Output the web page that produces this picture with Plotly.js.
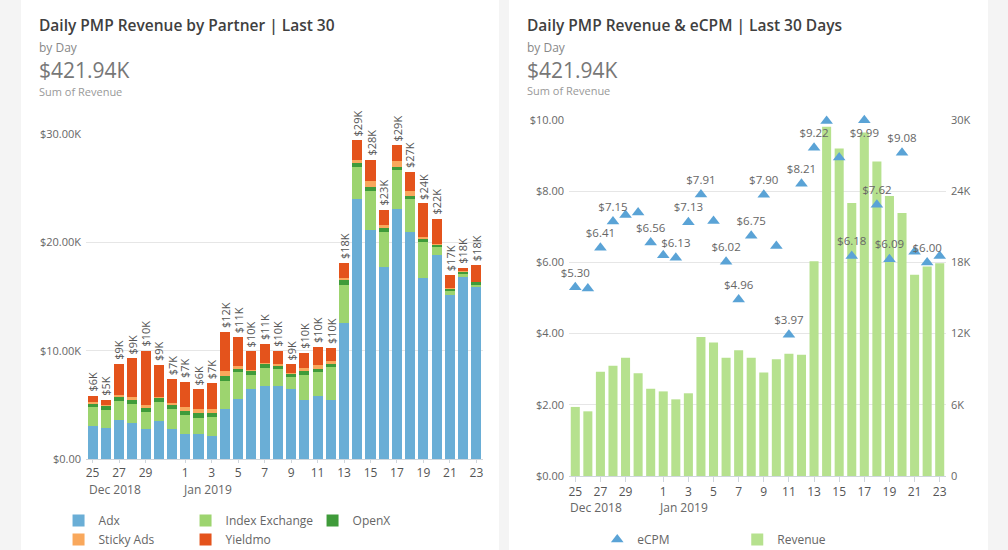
<!DOCTYPE html>
<html>
<head>
<meta charset="utf-8">
<script src="https://cdn.plot.ly/plotly-3.0.1.min.js"></script>
<style>
  html, body { margin: 0; padding: 0; background: #f4f4f4; width: 1008px; height: 550px; overflow: hidden; }
  #left { position: absolute; left: 21px; top: 0; width: 478px; height: 550px; }
  #right { position: absolute; left: 509px; top: 0; width: 479px; height: 550px; }
</style>
</head>
<body>
<div id="left"></div>
<div id="right"></div>
<script>
// ---- data (revenue in thousands of USD) ----
const dates = ['2018-12-25','2018-12-26','2018-12-27','2018-12-28','2018-12-29','2018-12-30','2018-12-31',
  '2019-01-01','2019-01-02','2019-01-03','2019-01-04','2019-01-05','2019-01-06','2019-01-07','2019-01-08',
  '2019-01-09','2019-01-10','2019-01-11','2019-01-12','2019-01-13','2019-01-14','2019-01-15','2019-01-16',
  '2019-01-17','2019-01-18','2019-01-19','2019-01-20','2019-01-21','2019-01-22','2019-01-23'];
const adx      = [3.05,2.87,3.6,3.36,2.75,3.5,2.78,2.31,2.31,2.13,4.6,5.52,6.5,6.75,6.72,6.45,5.46,5.83,5.46,12.6,23.96,21.1,17.73,23.1,21.0,16.74,18.8,15.1,16.8,15.88];
const indexEx  = [1.75,1.67,1.76,1.7,1.57,1.76,1.88,1.76,1.52,1.76,2.62,2.47,1.27,1.64,1.6,1.08,2.32,2.2,3.0,3.47,2.98,3.6,3.22,3.54,3.0,3.29,0.77,0.38,0.25,0.22];
const openx    = [0.3,0.31,0.37,0.37,0.4,0.34,0.31,0.37,0.4,0.34,0.4,0.31,0.31,0.34,0.28,0.28,0.31,0.31,0.34,0.43,0.37,0.4,0.37,0.3,0.28,0.31,0.18,0.25,0.2,0.2];
const sticky   = [0.12,0.12,0.16,0.25,0.25,0.15,0.18,0.4,0.4,0.4,0.47,0.25,0.15,0.12,0.16,0.12,0.3,0.34,0.22,0.25,0.25,0.55,0.31,0.53,0.43,0.15,0.1,0.09,0.06,0.06];
const yieldmo  = [0.6,0.48,2.9,3.62,5.0,2.9,2.21,2.29,1.83,2.34,3.62,2.71,1.74,1.74,1.21,0.8,1.44,1.62,1.2,1.34,1.87,1.95,1.38,1.47,1.8,3.1,2.31,1.14,0.35,1.57];
const ecpm     = [5.30,5.27,6.41,7.15,7.33,7.40,6.56,6.20,6.13,7.13,7.91,7.16,6.02,4.96,6.75,7.90,6.46,3.97,8.21,9.22,9.97,8.95,6.18,9.99,7.62,6.09,9.08,6.30,6.00,6.18];
const ecpmLabeled = ['2018-12-25','2018-12-27','2018-12-28','2018-12-31','2019-01-02','2019-01-03','2019-01-04',
  '2019-01-06','2019-01-07','2019-01-08','2019-01-09','2019-01-11','2019-01-12','2019-01-13','2019-01-16',
  '2019-01-17','2019-01-18','2019-01-19','2019-01-20','2019-01-22'];
const tickDates  = ['2018-12-25','2018-12-27','2018-12-29','2019-01-01','2019-01-03','2019-01-05','2019-01-07',
  '2019-01-09','2019-01-11','2019-01-13','2019-01-15','2019-01-17','2019-01-19','2019-01-21','2019-01-23'];
const tickLabels = ['25','27','29','1','3','5','7','9','11','13','15','17','19','21','23'];
const monthDates  = ['2018-12-25','2019-01-01'];
const monthLabels = ['Dec 2018','Jan 2019'];
const leftTitle  = 'Daily PMP Revenue by Partner | Last 30';
const rightTitle = 'Daily PMP Revenue &amp; eCPM | Last 30 Days';
const subTitle = 'by Day';
const bigValue = '$421.94K';
const bigLabel = 'Sum of Revenue';
const partnerNames = ['Adx','Index Exchange','OpenX','Sticky Ads','Yieldmo'];
const partnerColors = ['#6aaed6','#9dd46f','#3f9b3a','#f9a85c','#e4531c'];

// ---- derived ----
const x = dates.map((d, i) => i);
const tickvals = tickDates.map(d => dates.indexOf(d));
const partners = [adx, indexEx, openx, sticky, yieldmo];
const totals = x.map(i => partners.reduce((s, arr) => s + arr[i], 0));
const FONT = 'Open Sans, sans-serif';

function headerAnnotations(px, py, title) {
  const hx = px(16);
  return [
    { x: hx, y: py(25), xref: 'paper', yref: 'paper', text: title, showarrow: false,
      xanchor: 'left', yanchor: 'middle', font: { family: FONT, size: 15.5, color: '#404040', weight: 600 } },
    { x: hx, y: py(47), xref: 'paper', yref: 'paper', text: subTitle, showarrow: false,
      xanchor: 'left', yanchor: 'middle', font: { family: FONT, size: 12, color: '#888' } },
    { x: hx, y: py(70), xref: 'paper', yref: 'paper', text: bigValue, showarrow: false,
      xanchor: 'left', yanchor: 'middle', font: { family: FONT, size: 21, color: '#777' } },
    { x: hx, y: py(91), xref: 'paper', yref: 'paper', text: bigLabel, showarrow: false,
      xanchor: 'left', yanchor: 'middle', font: { family: FONT, size: 11, color: '#999' } }
  ];
}

// ================= LEFT =================
(function () {
  const W = 478, H = 550, L = 65.4, R = 16.4, T = 134, B = 91;
  const pw = W - L - R, ph = H - T - B;
  const px = v => (v - L) / pw;          // div x -> paper
  const py = v => (H - B - v) / ph;      // div y -> paper
  const ix = i => (i + 0.5) / x.length;  // category index -> paper
  const traces = partners.map((arr, k) => ({
    type: 'bar', x: x, y: arr, name: partnerNames[k],
    marker: { color: partnerColors[k] }, hoverinfo: 'name+y'
  }));
  const ann = [];
  x.forEach(i => ann.push({
    x: i, y: totals[i], xref: 'x', yref: 'y', text: '$' + Math.round(totals[i]) + 'K',
    textangle: -90, showarrow: false, xanchor: 'center', yanchor: 'bottom', yshift: 2,
    font: { family: FONT, size: 11, color: '#555' }
  }));
  monthDates.forEach((d, k) => ann.push({
    x: ix(dates.indexOf(d) - (k === 0 ? 0.45 : 0.35)), y: py(489), xref: 'paper', yref: 'paper',
    text: monthLabels[k], showarrow: false, xanchor: 'left', yanchor: 'middle',
    font: { family: FONT, size: 12, color: '#666' }
  }));
  headerAnnotations(px, py, leftTitle).forEach(a => ann.push(a));
  const yt = [0, 10, 20, 30];
  const layout = {
    width: W, height: H, margin: { l: L, r: R, t: T, b: B, pad: 0, autoexpand: false },
    paper_bgcolor: '#ffffff', plot_bgcolor: 'rgba(0,0,0,0)',
    barmode: 'stack', bargap: 0.24,
    font: { family: FONT, color: '#666' },
    xaxis: { range: [-0.5, x.length - 0.5], tickmode: 'array', tickvals: tickvals, ticktext: tickLabels,
      showgrid: false, zeroline: false, showline: true, linecolor: '#cfd6dc', linewidth: 1,
      ticks: 'outside', ticklen: 3, tickcolor: '#cfd6dc', tickfont: { size: 12, color: '#555' }, fixedrange: true },
    yaxis: { range: [0, 30], tickmode: 'array', tickvals: yt,
      ticktext: yt.map(v => v === 0 ? '$0.00' : '$' + v.toFixed(2) + 'K'),
      showgrid: true, gridcolor: '#e6e6e6', zeroline: false, showline: false,
      tickfont: { size: 11, color: '#666' }, ticklabelstandoff: 4, fixedrange: true },
    showlegend: true,
    legend: { orientation: 'h', x: px(38), y: py(506), xanchor: 'left', yanchor: 'top',
      entrywidth: 82, entrywidthmode: 'pixels', traceorder: 'normal',
      font: { family: FONT, size: 12, color: '#666' }, bgcolor: 'rgba(0,0,0,0)' },
    annotations: ann
  };
  Plotly.newPlot('left', traces, layout, { displayModeBar: false, staticPlot: true });
})();

// ================= RIGHT =================
(function () {
  const W = 479, H = 550, L = 59.7, R = 41.7, T = 120, B = 74;
  const pw = W - L - R, ph = H - T - B;
  const px = v => (v - L) / pw;
  const py = v => (H - B - v) / ph;
  const ix = i => (i + 0.5) / x.length;
  const ecpmText = dates.map((d, i) => ecpmLabeled.indexOf(d) >= 0 ? '$' + ecpm[i].toFixed(2) : '');
  const ecpmPos = ecpm.map(v => v > 9.9 ? 'bottom center' : 'top center');
  const traces = [
    { type: 'scatter', mode: 'markers+text', x: x, y: ecpm, name: 'eCPM', yaxis: 'y2',
      marker: { symbol: 'triangle-up', size: 11, color: '#5aa3d6' },
      text: ecpmText, textposition: ecpmPos, textfont: { family: FONT, size: 11.5, color: '#666' },
      cliponaxis: false },
    { type: 'bar', x: x, y: totals, name: 'Revenue', yaxis: 'y',
      marker: { color: '#b6e18e' } }
  ];
  const ann = [];
  monthDates.forEach((d, k) => ann.push({
    x: ix(dates.indexOf(d) - (k === 0 ? 0.6 : 0.5)), y: py(507), xref: 'paper', yref: 'paper',
    text: monthLabels[k], showarrow: false, xanchor: 'left', yanchor: 'middle',
    font: { family: FONT, size: 12, color: '#666' }
  }));
  headerAnnotations(px, py, rightTitle).forEach(a => ann.push(a));
  const rt = [0, 6, 12, 18, 24, 30];
  const layout = {
    width: W, height: H, margin: { l: L, r: R, t: T, b: B, pad: 0, autoexpand: false },
    paper_bgcolor: '#ffffff', plot_bgcolor: 'rgba(0,0,0,0)',
    bargap: 0.28,
    font: { family: FONT, color: '#666' },
    xaxis: { range: [-0.5, x.length - 0.5], tickmode: 'array', tickvals: tickvals, ticktext: tickLabels,
      showgrid: false, zeroline: false, showline: true, linecolor: '#cfd6dc', linewidth: 1,
      ticks: 'outside', ticklen: 5, tickcolor: '#cfd6dc', tickfont: { size: 12, color: '#555' }, fixedrange: true },
    yaxis: { range: [0, 30], side: 'right', tickmode: 'array', tickvals: rt,
      ticktext: rt.map(v => v === 0 ? '0' : v + 'K'),
      showgrid: true, gridcolor: '#e6e6e6', zeroline: false, showline: false,
      tickfont: { size: 11, color: '#666' }, ticklabelstandoff: 4, fixedrange: true },
    yaxis2: { range: [0, 10], overlaying: 'y', side: 'left', dtick: 2, tickprefix: '$', tickformat: '.2f',
      showgrid: false, zeroline: false, showline: false,
      tickfont: { size: 11, color: '#666' }, ticklabelstandoff: 4, fixedrange: true },
    showlegend: true,
    legend: { orientation: 'h', x: px(88), y: py(525), xanchor: 'left', yanchor: 'top',
      entrywidth: 95, entrywidthmode: 'pixels', traceorder: 'normal',
      font: { family: FONT, size: 12, color: '#666' }, bgcolor: 'rgba(0,0,0,0)' },
    annotations: ann
  };
  Plotly.newPlot('right', traces, layout, { displayModeBar: false, staticPlot: true });
})();
</script>
</body>
</html>
